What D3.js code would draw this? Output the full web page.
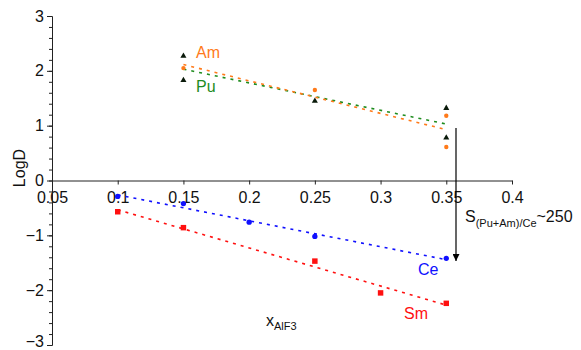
<!DOCTYPE html>
<html>
<head>
<meta charset="utf-8">
<script src="https://cdn.jsdelivr.net/npm/d3@7"></script>
<style>
  body { margin: 0; background: #fff; }
  svg text { font-family: "Liberation Sans", Arial, Helvetica, sans-serif; }
</style>
</head>
<body>
<div class="chart"></div>
<script>
// x ticks / y ticks
const xTicks = [0.05, 0.1, 0.15, 0.2, 0.25, 0.3, 0.35, 0.4];
const yTicks = [-3, -2, -1, 0, 1, 2, 3];

// Am (orange points)
const amX = [0.15, 0.25, 0.35, 0.35];
const amY = [2.05, 1.65, 1.18, 0.61];
// Pu (black triangles, green fit)
const puX = [0.15, 0.15, 0.25, 0.35, 0.35];
const puY = [2.27, 1.83, 1.45, 1.32, 0.78];
// Ce (blue circles)
const ceX = [0.1, 0.15, 0.2, 0.25, 0.35];
const ceY = [-0.29, -0.42, -0.76, -1.02, -1.42];
// Sm (red squares)
const smX = [0.1, 0.15, 0.25, 0.3, 0.35];
const smY = [-0.57, -0.86, -1.47, -2.05, -2.24];

const width = 581, height = 350;

const svg = d3.select('.chart').append('svg')
  .attr('width', width)
  .attr('height', height);

let x = d3.scaleLinear().domain([0.05, 0.4]).range([52, 512]);
let y = d3.scaleLinear().domain([-3, 3]).range([345, 16]);

// least squares trend line over the x range of the series
function fit(xs, ys) {
  let mx = d3.mean(xs), my = d3.mean(ys);
  let sxy = d3.sum(xs, (v, i) => (v - mx) * (ys[i] - my));
  let sxx = d3.sum(xs, v => (v - mx) * (v - mx));
  let b = sxy / sxx, a = my - b * mx;
  let ext = d3.extent(xs);
  return ext.map(v => [v, a + b * v]);
}

function trend(xs, ys, color) {
  let line = d3.line().x(d => x(d[0])).y(d => y(d[1]));
  svg.append('path')
    .datum(fit(xs, ys))
    .attr('fill', 'none')
    .attr('stroke', color)
    .attr('stroke-width', 1.6)
    .attr('stroke-dasharray', '3,5')
    .attr('d', line);
}

function markers(xs, ys, symbol, size, color) {
  svg.append('g').selectAll('path')
    .data(xs.map((v, i) => [v, ys[i]]))
    .join('path')
    .attr('transform', d => 'translate(' + x(d[0]) + ',' + y(d[1]) + ')')
    .attr('d', d3.symbol().type(symbol).size(size))
    .attr('fill', color);
}

// axes
let xAxis = d3.axisBottom(x)
  .tickValues(xTicks)
  .tickFormat(d => String(d))
  .tickSize(4)
  .tickSizeOuter(0)
  .tickPadding(7);

let xAxisGroup = svg.append('g')
  .attr('transform', 'translate(0,' + y(0) + ')')
  .call(xAxis);

let yMinor = d3.range(-3, 3.001, 0.2);
svg.append('g')
  .attr('transform', 'translate(' + x(0.05) + ',0)')
  .call(d3.axisLeft(y).tickValues(yMinor).tickSize(3).tickSizeOuter(0).tickFormat(''));

let yAxisGroup = svg.append('g')
  .attr('transform', 'translate(' + x(0.05) + ',0)')
  .call(d3.axisLeft(y).tickValues(yTicks).tickSize(5).tickSizeOuter(0).tickPadding(3).tickFormat(d3.format('d')));

svg.selectAll('.tick text')
  .attr('font-size', 16)
  .attr('font-family', '"Liberation Sans", Arial, sans-serif')
  .attr('fill', '#111');
svg.selectAll('.domain, .tick line').attr('stroke', '#222');

// keep the bottom label inside the picture
yAxisGroup.selectAll('.tick text').filter(d => d === -3).attr('dy', '0.1em');

// trend lines
trend(puX, puY, '#1e8c1e');
trend(amX, amY, '#ff7a1a');
trend(ceX, ceY, '#1010ff');
trend(smX, smY, '#ff1010');

// points
markers(puX, puY, d3.symbolTriangle, 16, '#0a1a0a');
markers(amX, amY, d3.symbolCircle, 15, '#ff7a1a');
markers(ceX, ceY, d3.symbolCircle, 22, '#1010ff');
markers(smX, smY, d3.symbolSquare, 30, '#ff1010');

// series labels
function label(t, px, py, color) {
  svg.append('text').text(t)
    .attr('x', px).attr('y', py)
    .attr('font-size', 16)
    .attr('fill', color);
}
label('Am', 196, 58, '#ff7a1a');
label('Pu', 196, 92, '#1e8c1e');
label('Ce', 418, 275, '#1010ff');
label('Sm', 404, 319, '#ff1010');

// y title
svg.append('text')
  .attr('transform', 'translate(25,168) rotate(-90)')
  .attr('text-anchor', 'middle')
  .attr('font-size', 16)
  .attr('fill', '#111')
  .text('LogD');

// x title
let xt = svg.append('text')
  .attr('x', 266).attr('y', 326)
  .attr('font-size', 16)
  .attr('fill', '#111');
xt.append('tspan').text('x');
xt.append('tspan').attr('dy', 4).attr('font-size', 11).text('AlF3');

// selectivity arrow
svg.append('defs').append('marker')
  .attr('id', 'arrowhead')
  .attr('viewBox', '0 0 10 10')
  .attr('refX', 10).attr('refY', 5)
  .attr('markerWidth', 7).attr('markerHeight', 7)
  .attr('markerUnits', 'userSpaceOnUse')
  .attr('orient', 'auto')
  .append('path')
  .attr('d', 'M0,0L10,5L0,10Z')
  .attr('fill', '#000');

svg.append('line')
  .attr('x1', 456).attr('x2', 456)
  .attr('y1', 128).attr('y2', 261)
  .attr('stroke', '#000')
  .attr('stroke-width', 1.2)
  .attr('marker-end', 'url(#arrowhead)');

let st = svg.append('text')
  .attr('x', 465).attr('y', 222)
  .attr('font-size', 16)
  .attr('fill', '#111');
st.append('tspan').text('S');
st.append('tspan').attr('dy', 5).attr('font-size', 11).text('(Pu+Am)/Ce');
st.append('tspan').attr('dy', -5).text('~250');
</script>
</body>
</html>
